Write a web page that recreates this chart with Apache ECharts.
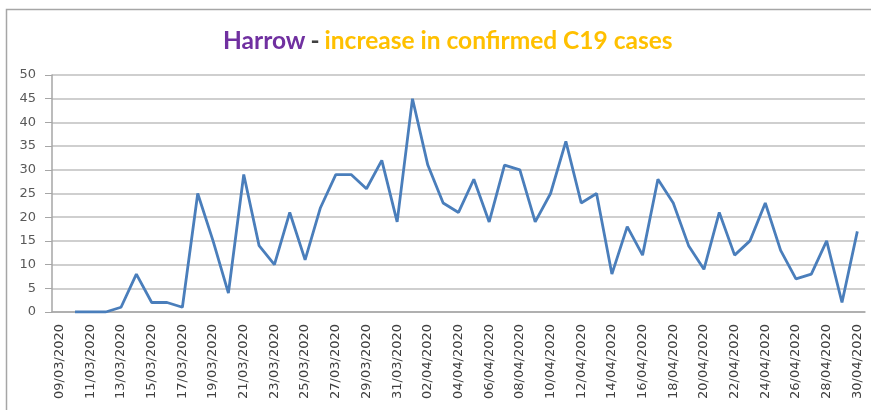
<!DOCTYPE html>
<html><head><meta charset="utf-8">
<script src="https://cdn.jsdelivr.net/npm/echarts@6/dist/echarts.min.js"></script>
<style>html,body{margin:0;padding:0;background:#fff}#c{width:871px;height:410px}</style>
</head><body><div id="c"></div>
<script>
const categories = [
 '09/03/2020','10/03/2020','11/03/2020','12/03/2020','13/03/2020','14/03/2020','15/03/2020','16/03/2020','17/03/2020','18/03/2020',
 '19/03/2020','20/03/2020','21/03/2020','22/03/2020','23/03/2020','24/03/2020','25/03/2020','26/03/2020','27/03/2020','28/03/2020',
 '29/03/2020','30/03/2020','31/03/2020','01/04/2020','02/04/2020','03/04/2020','04/04/2020','05/04/2020','06/04/2020','07/04/2020',
 '08/04/2020','09/04/2020','10/04/2020','11/04/2020','12/04/2020','13/04/2020','14/04/2020','15/04/2020','16/04/2020','17/04/2020',
 '18/04/2020','19/04/2020','20/04/2020','21/04/2020','22/04/2020','23/04/2020','24/04/2020','25/04/2020','26/04/2020','27/04/2020',
 '28/04/2020','29/04/2020','30/04/2020'];
const cases = [
 null,0,0,0,1,8,2,2,1,25,
 15,4,29,14,10,21,11,22,29,29,
 26,32,19,45,31,23,21,28,19,31,
 30,19,25,36,23,25,8,18,12,28,
 23,14,9,21,12,15,23,13,7,8,
 15,2,17];
const yTicks = [0,5,10,15,20,25,30,35,40,45,50];

const chart = echarts.init(document.getElementById('c'));
chart.setOption({
  animation: false,
  title: {
    text: '{a|Harrow} {b|-} {c|increase in confirmed C19 cases}',
    left: 218, top: 24,
    textStyle: {
      rich: {
        a: {fontFamily: 'Lato', fontWeight: 'bold', fontSize: 24.5, color: '#7030A0'},
        b: {fontFamily: 'Lato', fontWeight: 'bold', fontSize: 24.5, color: '#404040'},
        c: {fontFamily: 'Lato', fontWeight: 'bold', fontSize: 24.5, color: '#FFC000'}
      }
    }
  },
  graphic: [{type: 'rect', shape: {x: 6.5, y: 9.5, width: 880, height: 420},
    style: {fill: 'none', stroke: '#A6A6A6', lineWidth: 1.5}, silent: true}],
  grid: {left: 52, right: 6, top: 75, bottom: 98},
  xAxis: {
    type: 'category', data: categories, boundaryGap: true,
    axisLine: {lineStyle: {color: '#A6A6A6', width: 1.5}},
    axisTick: {interval: 1, length: 5, lineStyle: {color: '#A6A6A6'}},
    axisLabel: {interval: 1, rotate: 90, color: '#404040', fontSize: 13,
      fontFamily: 'DejaVu Sans', margin: 12}
  },
  yAxis: {
    type: 'value', min: 0, max: 50, interval: 5,
    axisLine: {show: true, lineStyle: {color: '#A6A6A6', width: 1.5}},
    axisTick: {show: true, length: 7, lineStyle: {color: '#A6A6A6'}},
    axisLabel: {color: '#595959', fontSize: 13, fontFamily: 'DejaVu Sans', margin: 16,
      formatter: v => yTicks.includes(v) ? String(v) : ''},
    splitLine: {lineStyle: {color: '#BFBFBF', width: 1.5}}
  },
  series: [{
    type: 'line', data: cases, showSymbol: false, connectNulls: false,
    lineStyle: {color: '#4A7EBB', width: 2.8}, itemStyle: {color: '#4A7EBB'}
  }]
});
</script></body></html>
